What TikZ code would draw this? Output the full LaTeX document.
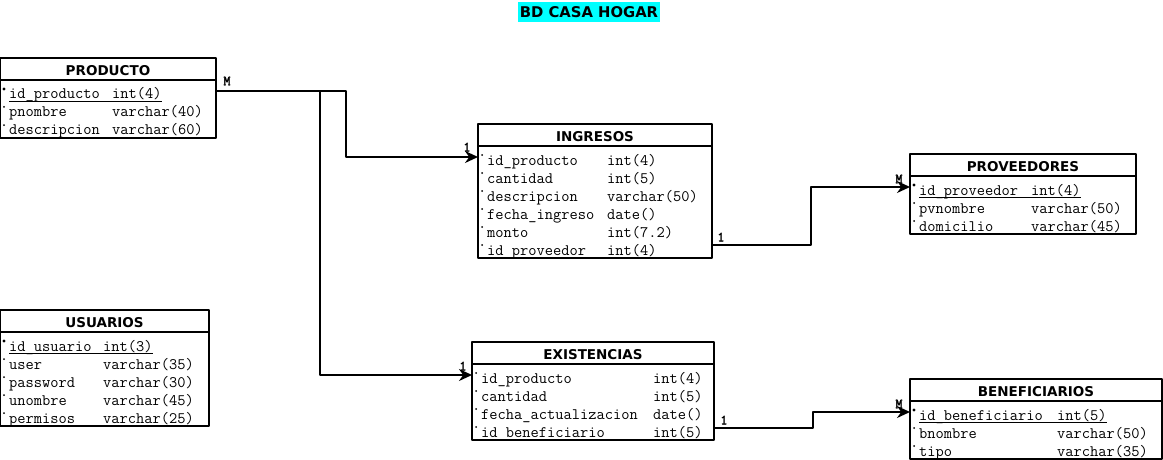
\documentclass[tikz,border=0pt]{standalone}
\usepackage{fontspec}
\newfontfamily\hdrfont{DejaVu Sans}
\newfontfamily\cardfont[FakeBold=2]{Latin Modern Mono}
\usetikzlibrary{arrows.meta}
\definecolor{titlecyan}{RGB}{0,255,255}

\begin{document}
\begin{tikzpicture}[x=1pt, y=-1pt, line join=round, >={Stealth[length=13pt,width=12pt]},
    tbl/.style={draw, line width=2pt, anchor=north west, inner sep=0pt, outer sep=0pt},
    hdr/.style={inner sep=0pt, font=\hdrfont\bfseries\fontsize{13.5}{14}\selectfont},
    col/.style={anchor=base west, inner sep=0pt, font=\ttfamily\fontsize{16}{18}\selectfont},
    card/.style={inner sep=0pt, font=\cardfont\fontsize{14}{14}\selectfont},
    rel/.style={line width=2pt, ->}]
  \useasboundingbox (0,0) rectangle (1163,460);

  \node[fill=titlecyan, inner xsep=2pt, inner ysep=0pt, minimum height=20pt,
        font=\hdrfont\bfseries\fontsize{14.8}{15}\selectfont] (title) at (589,12) {BD CASA HOGAR};

  % tables: name/title/x/y/width/type column/rows/fields
  \foreach \t/\ttl/\xa/\ya/\w/\tx/\n/\rows in {
    producto/PRODUCTO/0/58/216/112/3/{id\_producto/int(4),pnombre/varchar(40),descripcion/varchar(60)},
    ingresos/INGRESOS/478/124/234/607/6/{id\_producto/int(4),cantidad/int(5),descripcion/varchar(50),fecha\_ingreso/date(),monto/int(7.2),id\_proveedor/int(4)},
    proveedores/PROVEEDORES/910/154/226/1031/3/{id\_proveedor/int(4),pvnombre/varchar(50),domicilio/varchar(45)},
    usuarios/USUARIOS/0/310/209/103/5/{id\_usuario/int(3),user/varchar(35),password/varchar(30),unombre/varchar(45),permisos/varchar(25)},
    existencias/EXISTENCIAS/472/342/242/653/4/{id\_producto/int(4),cantidad/int(5),fecha\_actualizacion/date(),id\_beneficiario/int(5)},
    beneficiarios/BENEFICIARIOS/910/379/252/1057/3/{id\_beneficiario/int(5),bnombre/varchar(50),tipo/varchar(35)}}{
    \node[tbl, minimum width={\w pt}, minimum height={26+18*\n}] (\t) at (\xa,\ya) {};
    \node[hdr] (\t-h) at ([yshift=-12.5pt]\t.north) {\ttl};
    \draw[line width=1.5pt] ([yshift=-22pt]\t.north west) -- ([yshift=-22pt]\t.north east);
    \foreach \a/\b [count=\k] in \rows {
      \node[col] (\t-n\k) at (\xa+9,\ya+23+18*\k) {\a};
      \node[col] (\t-t\k) at (\tx,\ya+23+18*\k) {\b};
      \fill (\xa+4,\ya+13+18*\k) circle (1pt);
    }
  }

  % primary keys
  \foreach \t in {producto,proveedores,usuarios,beneficiarios}{
    \draw[line width=1pt] ([yshift=-2.5pt]\t-n1.base west) -- ([yshift=-2.5pt]\t-t1.base east);
    \fill (\t-n1.base west) ++(-5,-10) circle (1.6pt);
  }

  \path
  ([yshift=-33pt]producto.north east) coordinate (prod-out)
  ([yshift=-33pt]ingresos.north west) coordinate (ing-in)
  ([yshift=13pt]ingresos.south east) coordinate (ing-out)
  ([yshift=-33pt]proveedores.north west) coordinate (prov-in)
  ([yshift=-33pt]existencias.north west) coordinate (exi-in)
  ([yshift=12pt]existencias.south east) coordinate (exi-out)
  ([yshift=-33pt]beneficiarios.north west) coordinate (ben-in)
  ;

  \draw[rel] (prod-out) -- ++(130,0) |- (ing-in);
  \draw[rel] (prod-out) -- ++(104,0) |- (exi-in);
  \draw[rel] (ing-out) -- ++(99,0) |- (prov-in);
  \draw[rel] (exi-out) -- ++(99,0) |- (ben-in);

  \foreach \c/\l/\dx/\dy in {prod-out/M/11/-10,ing-in/1/-11/-10,ing-out/1/9/-8,prov-in/M/-11/-8,exi-in/1/-9/-9,exi-out/1/10/-8,ben-in/M/-11/-8}{
    \node[card] (lbl-\c) at ([shift={(\dx,\dy)}]\c) {\l};
  }
\end{tikzpicture}
\end{document}
